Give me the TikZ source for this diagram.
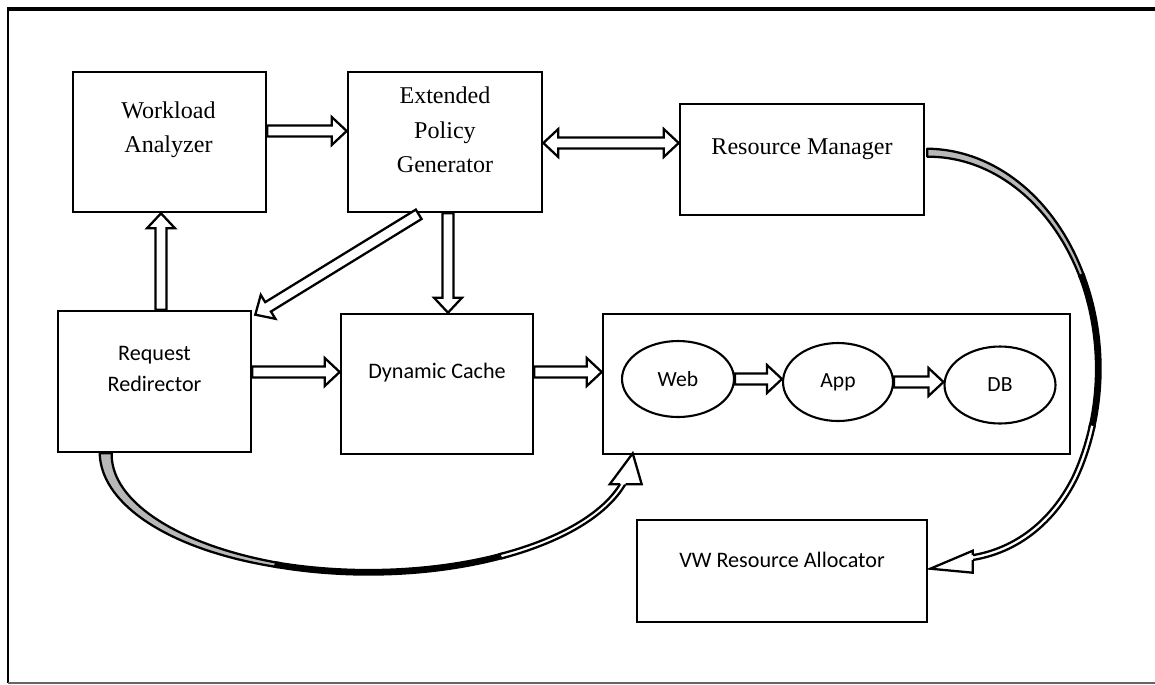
\documentclass[tikz,border=0pt]{standalone}
\usepackage{fontspec}
\setmainfont{Liberation Serif}
\newfontfamily\carlito{Carlito}
\usetikzlibrary{calc,shapes.geometric}

% geometry of the hollow block arrows
\newcommand\shaftw{0.11cm}
\newcommand\headw{0.28cm}
\newcommand\headlen{0.30cm}

% hollow arrow from #1 to #2
\newcommand\hollowarrow[2]{%
  \coordinate (hA) at (#1);
  \coordinate (hB) at (#2);
  \coordinate (hH) at ($(hB)!\headlen!(hA)$);
  \filldraw[arrowbody]
    ($(hA)!\shaftw!90:(hB)$) -- ($(hH)!\shaftw!-90:(hA)$) -- ($(hH)!\headw!-90:(hA)$)
    -- (hB) -- ($(hH)!\headw!90:(hA)$) -- ($(hH)!\shaftw!90:(hA)$)
    -- ($(hA)!\shaftw!-90:(hB)$) -- cycle;
}

% hollow arrow with a head at both ends
\newcommand\hollowdarrow[2]{%
  \coordinate (hA) at (#1);
  \coordinate (hB) at (#2);
  \coordinate (hH) at ($(hB)!\headlen!(hA)$);
  \coordinate (hG) at ($(hA)!\headlen!(hB)$);
  \filldraw[arrowbody]
    (hA) -- ($(hG)!\headw!90:(hB)$) -- ($(hG)!\shaftw!90:(hB)$)
    -- ($(hH)!\shaftw!-90:(hA)$) -- ($(hH)!\headw!-90:(hA)$) -- (hB)
    -- ($(hH)!\headw!90:(hA)$) -- ($(hH)!\shaftw!90:(hA)$)
    -- ($(hG)!\shaftw!-90:(hB)$) -- ($(hG)!\headw!-90:(hB)$) -- cycle;
}

\tikzset{
  box/.style={draw, line width=1.5pt, inner sep=0pt},
  tier/.style={draw, ellipse, line width=1.2pt, inner sep=0pt,
    font=\carlito\fontsize{12.3}{14}\selectfont},
  seriflabel/.style={align=center, inner sep=0pt, font=\fontsize{13.7}{19.5}\selectfont},
  sanslabel/.style={align=center, inner sep=0pt, font=\carlito\fontsize{12.6}{18}\selectfont},
  arrowbody/.style={draw, fill=white, line width=1.3pt, line join=miter},
  bandline/.style={draw, line width=1.3pt, line join=round},
  headline/.style={line width=1.3pt, line join=miter},
}

\begin{document}
\begin{tikzpicture}[x=0.02cm, y=-0.02cm]
\useasboundingbox (0,0) rectangle (1155,684);

% page frame
\draw[line width=2.2pt] (7.2,9) -- (1155,9);
\draw[line width=1.7pt] (8,8) -- (8,683);
\draw[black!60, line width=1.2pt] (8,683) -- (1155,683);

% components
\node[box, minimum width=3.86cm, minimum height=2.80cm] (wa)  at (169.5,142) {};
\node[box, minimum width=3.88cm, minimum height=2.80cm] (epg) at (445,142) {};
\node[box, minimum width=4.88cm, minimum height=2.22cm] (rm)  at (802,159.5) {};
\node[box, minimum width=3.86cm, minimum height=2.82cm] (rr)  at (154.5,381.5) {};
\node[box, minimum width=3.84cm, minimum height=2.80cm] (dc)  at (437,384) {};
\node[box, minimum width=9.34cm, minimum height=2.80cm] (ct)  at (836.5,384) {};
\node[box, minimum width=5.80cm, minimum height=2.04cm] (vw)  at (782,571) {};

\node[tier, minimum width=2.24cm, minimum height=1.52cm] (web) at (678,379) {Web};
\node[tier, minimum width=2.20cm, minimum height=1.56cm] (app) at (838,382) {App};
\node[tier, minimum width=2.22cm, minimum height=1.54cm] (db)  at (1000,385) {DB};

% labels
\node[seriflabel] (wa-t)  at ($(wa)+(-1,-12)$)    {Workload\\Analyzer};
\node[seriflabel] (epg-t) at ($(epg)+(0,-12)$)    {Extended\\Policy\\Generator};
\node[seriflabel] (rm-t)  at ($(rm)+(0,-10.5)$)   {Resource Manager};
\node[sanslabel]  (rr-t)  at ($(rr)+(0,-12.5)$)   {Request\\Redirector};
\node[sanslabel]  (dc-t)  at ($(dc)+(0,-11)$)     {Dynamic Cache};
\node[sanslabel]  (vw-t)  at ($(vw)+(0,-11)$)     {VW Resource Allocator};

% straight block arrows
\hollowarrow{$(wa.east)+(0,-11)$}{$(epg.west)+(0,-11)$}
\hollowdarrow{$(epg.east)+(0,1)$}{$(rm.west)+(0,-16.5)$}
\hollowarrow{$(epg.south)+(3,0)$}{$(dc.north)+(11,0)$}
\hollowarrow{$(epg.south west)+(72,1)$}{$(rr.north east)+(3,5)$}
\hollowarrow{$(rr.north)+(6.5,0)$}{$(wa.south)+(-8.5,0)$}
\hollowarrow{$(rr.east)+(0,-9.5)$}{$(dc.west)+(0,-12)$}
\hollowarrow{$(dc.east)+(0,-12)$}{$(ct.west)+(0,-12)$}
\hollowarrow{web.east}{web.east -| app.west}
\hollowarrow{app.east}{app.east -| db.west}

% curved arrow: request redirector -> tier container
\coordinate (c1) at ($(rr.south west)+(312,0)$);
\begin{scope}[shift={(c1)}]
  \filldraw[bandline, fill=black!28]
    plot[domain=180:250, samples=36] ({(263+6-(\x-180)/18.4)*cos(\x)}, {-(119+6-(\x-180)/18.4)*sin(\x)})
    -- plot[domain=250:180, samples=36] ({(263-6+(\x-180)/18.4)*cos(\x)}, {-(119-6+(\x-180)/18.4)*sin(\x)})
    -- cycle;
  \fill plot[domain=249:301, samples=30] ({(263+3.4)*cos(\x)}, {-(119+3.4)*sin(\x)})
    -- plot[domain=301:249, samples=30] ({(263-3.4)*cos(\x)}, {-(119-3.4)*sin(\x)}) -- cycle;
  \filldraw[bandline, fill=white]
    plot[domain=300:352, samples=30] ({(263+2.4)*cos(\x)}, {-(119+2.4)*sin(\x)})
    -- plot[domain=352:300, samples=30] ({(263-2.4)*cos(\x)}, {-(119-2.4)*sin(\x)}) -- cycle;
  \fill[white] (241,31) -- (264,0) -- (273,31) -- cycle;
  \draw[headline] (251.4,31) -- (241,31) -- (264,0) -- (273,31) -- (257,31);
\end{scope}

% curved arrow: resource manager -> VW resource allocator
\coordinate (c2) at ($(rm.north east)+(2,266)$);
\begin{scope}[shift={(c2)}]
  \filldraw[bandline, fill=black!28]
    plot[domain=90:25, samples=36] ({(171+2.2+(\x-25)/36.1)*cos(\x)}, {-(216+2.2+(\x-25)/36.1)*sin(\x)})
    -- plot[domain=25:90, samples=36] ({(171-2.2-(\x-25)/36.1)*cos(\x)}, {-(216-2.2-(\x-25)/36.1)*sin(\x)})
    -- cycle;
  \fill plot[domain=26:-16, samples=30] ({(171+3.4)*cos(\x)}, {-(216+3.4)*sin(\x)})
    -- plot[domain=-16:26, samples=30] ({(171-3.4)*cos(\x)}, {-(216-3.4)*sin(\x)}) -- cycle;
  \filldraw[bandline, fill=white]
    plot[domain=-15:-76, samples=40] ({(171+2.4)*cos(\x)}, {-(216+0.45*min(\x+30,0)+2.4)*sin(\x)})
    -- plot[domain=-76:-15, samples=40] ({(171-2.4)*cos(\x)}, {-(216+0.45*min(\x+30,0)-2.4)*sin(\x)})
    -- cycle;
  \fill[white] (45.5,182) -- (3,200) -- (45.5,204) -- cycle;
  \draw[headline] (45.5,186.4) -- (45.5,182) -- (3,200) -- (45.5,204) -- (45.5,191.3);
\end{scope}
\end{tikzpicture}
\end{document}
